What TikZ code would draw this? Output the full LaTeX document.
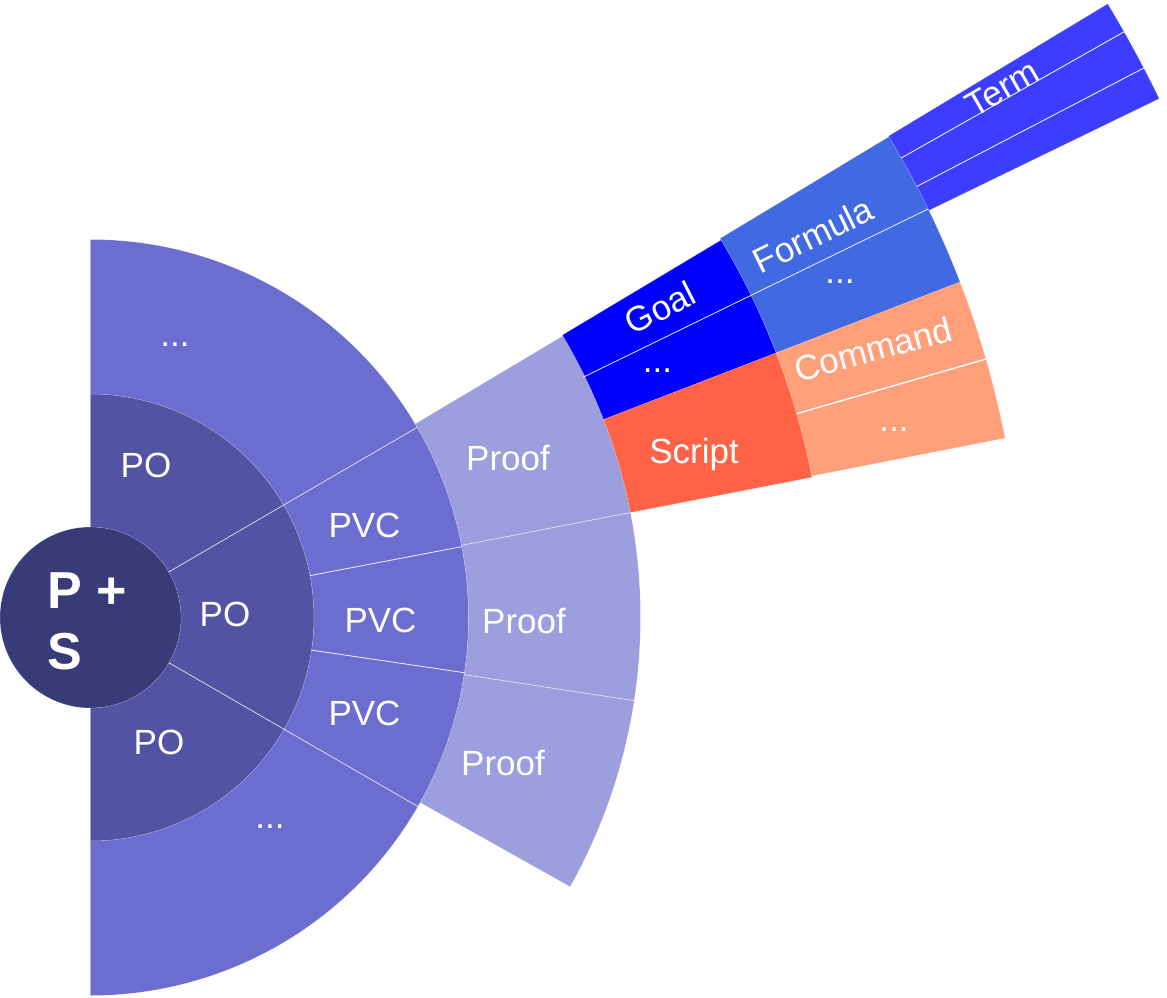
\documentclass[tikz,border=0pt]{standalone}
\usepackage{fontspec}
\setmainfont{Liberation Sans}
\definecolor{cA}{HTML}{393B79}
\definecolor{cB}{HTML}{5254A3}
\definecolor{cC}{HTML}{6B6ECF}
\definecolor{cD}{HTML}{9C9EDE}
\definecolor{cGoal}{HTML}{0000FF}
\definecolor{cForm}{HTML}{4169E1}
\definecolor{cTerm}{HTML}{3D3DFF}
\definecolor{cScript}{HTML}{FF6347}
\definecolor{cCmd}{HTML}{FFA07A}
\newcommand\mysector[5]{\path[#1] (#2:#4) arc[start angle=#2,end angle=#3,radius=#4] -- (#3:#5) arc[start angle=#3,end angle=#2,radius=#5] -- cycle;}
\newcommand\mysep[4]{\draw[sepline,#4] (#1:#2) -- (#1:#3);}
\tikzset{
 seg/.style={fill=#1, draw=white, draw opacity=0.22, line width=0.4pt},
 sepline/.style={draw=white, line width=0.6pt},
 lbl/.style={text=white, inner sep=0pt, font=\fontsize{26.25pt}{30pt}\selectfont},
 blbl/.style={lbl, anchor=base},
 rlbl/.style={lbl, anchor=center, text height=18.8pt, text depth=0pt},
 hub/.style={text=white, inner sep=0pt, anchor=base west, font=\bfseries\fontsize{39pt}{46pt}\selectfont},
}
\begin{document}
\begin{tikzpicture}[x=0.75pt,y=0.75pt]
\useasboundingbox (-90.5,-379.5) rectangle (1076.5,617.5);
\fill[white] (-90.5,-379.5) rectangle (1076.5,617.5);
% ring 1
\mysector{seg=cB}{90}{30.2}{90.5}{223.5}
\mysector{seg=cB}{30.2}{-30}{90.5}{223.5}
\mysector{seg=cB}{-30}{-90}{90.5}{223.5}
% ring 2
\mysector{seg=cC}{90}{30.2}{223.5}{378}
\mysector{seg=cC}{30.2}{10.8}{223.5}{378}
\mysector{seg=cC}{10.8}{-8.4}{223.5}{378}
\mysector{seg=cC}{-8.4}{-30}{223.5}{378}
\mysector{seg=cC}{-30}{-90}{223.5}{378}
% ring 3
\mysector{seg=cD}{30.8}{11}{378}{550}
\mysector{seg=cD}{11}{-8.7}{378}{550}
\mysector{seg=cD}{-8.7}{-29.3}{378}{550}
% ring 4
\mysector{seg=cGoal}{30.9}{21.1}{550}{735}
\mysector{seg=cScript}{21.1}{11}{550}{735}
% ring 5
\mysector{seg=cForm}{31.05}{21.1}{735}{932}
\mysector{seg=cCmd}{21.1}{16.1}{735}{932}
\mysector{seg=cCmd}{16.1}{11.1}{735}{932}
% ring 6
\mysector{seg=cTerm}{31.1}{29.54}{932}{1188}
\mysector{seg=cTerm}{29.54}{27.55}{932}{1188}
\mysector{seg=cTerm}{27.55}{25.9}{932}{1188}
% centre
\path[seg=cA] (0,0) circle[radius=90.5];
% separators
\mysep{30.2}{90.5}{378}{draw opacity=0.6}
\mysep{-30}{90.5}{378}{draw opacity=0.6}
\mysep{10.8}{223.5}{378}{draw opacity=0.8}
\mysep{-8.4}{223.5}{378}{draw opacity=0.8}
\mysep{11}{378}{550}{draw opacity=0.45}
\mysep{-8.7}{378}{550}{draw opacity=0.45}
\mysep{26}{548}{932}{draw opacity=0.9}
\mysep{16.1}{735}{932}{line width=1pt}
\mysep{29.54}{932}{1188}{draw opacity=0.9}
\mysep{27.55}{932}{1188}{draw opacity=0.9}
% labels
\node[hub] (ps1) at (-43,9.5) {P +};
\node[hub] (ps2) at (-43,-52) {S};
\node[blbl] (dt) at (84.5,271.5) {...};
\node[blbl] (po1) at (55.5,140.5) {PO};
\node[blbl] (po2) at (134.5,-8.5) {PO};
\node[blbl] (po3) at (68.5,-136.5) {PO};
\node[blbl] (db) at (179.5,-210.5) {...};
\node[blbl] (pvc1) at (274,80.5) {PVC};
\node[blbl] (pvc2) at (290,-14.5) {PVC};
\node[blbl] (pvc3) at (274,-107.5) {PVC};
\node[blbl] (pr1) at (417.5,147.5) {Proof};
\node[blbl] (pr2) at (433.5,-15.5) {Proof};
\node[blbl] (pr3) at (412.5,-157.5) {Proof};
\node[blbl] (scr) at (603.5,154.5) {Script};
\node[blbl] (dg) at (567,245.5) {...};
\node[blbl] (df) at (749.5,334.5) {...};
\node[blbl] (dc) at (803.5,186.5) {...};
\node[rlbl, rotate=27] (goal) at (569.5,309.5) {Goal};
\node[rlbl, rotate=26] (form) at (722.5,382.5) {Formula};
\node[rlbl, rotate=30] (term) at (911.5,529.5) {Term};
\node[rlbl, rotate=15] (cmd) at (782.5,268.5) {Command};
\end{tikzpicture}
\end{document}
